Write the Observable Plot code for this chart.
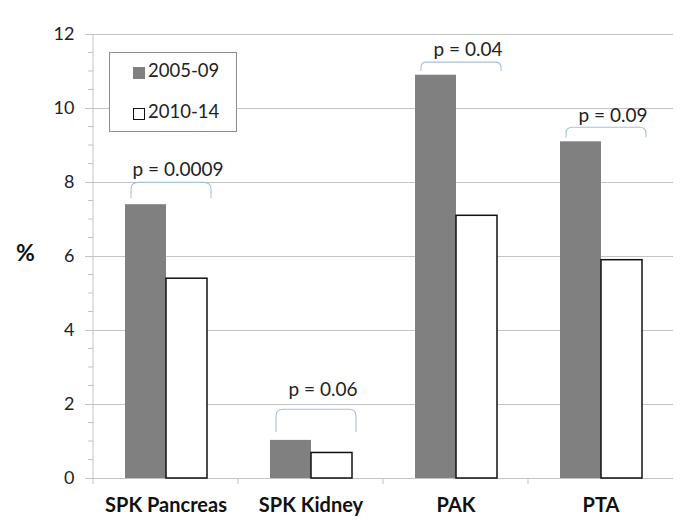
<!DOCTYPE html>
<html><head><meta charset="utf-8">
<script src="https://cdn.jsdelivr.net/npm/d3@7"></script>
<script src="https://cdn.jsdelivr.net/npm/@observablehq/plot@0.6"></script>
<style>
body{margin:0;background:#fff;font-family:Lato,"Open Sans",sans-serif;}
#wrap{position:relative;width:700px;height:521px;overflow:hidden;}
#legend{position:absolute;left:109px;top:52px;width:126px;height:78px;border:1px solid #8c8c8c;background:#fff;}
.sw{position:absolute;left:23px;width:12px;height:12px;box-sizing:border-box;}
.lt{position:absolute;left:38px;font-size:18.5px;line-height:18px;color:#222;white-space:nowrap;}
#pct{position:absolute;left:16px;top:241px;font-size:23px;font-weight:bold;color:#111;line-height:23px;}
</style></head><body>
<div id="wrap"><div id="chart"></div><div id="legend"></div><div id="pct">%</div></div>
<script>
const categories = ["SPK Pancreas", "SPK Kidney", "PAK", "PTA"];
const periods = ["2005-09", "2010-14"];
const values0509 = [7.4, 1.03, 10.9, 9.1];
const values1014 = [5.4, 0.69, 7.1, 5.9];
const pLabels = ["p = 0.0009", "p = 0.06", "p = 0.04", "p = 0.09"];
const pLabelY = [8.18, 2.24, 11.43, 9.64];
const bracketTop = [7.99, 1.86, 11.24, 9.48];
const bracketLegEnd = [7.56, 1.24, 11.0, 9.2];
const yTicks = [0, 2, 4, 6, 8, 10, 12];
const yMinorTicks = [0.5, 1, 1.5, 2.5, 3, 3.5, 4.5, 5, 5.5, 6.5, 7, 7.5, 8.5, 9, 9.5, 10.5, 11, 11.5];

const GRID = "#c3c3c3";
const bars = categories.flatMap((c, i) => [
  {category: c, period: periods[0], value: values0509[i]},
  {category: c, period: periods[1], value: values1014[i]}
]);
const annot = categories.map((c, i) => ({category: c, label: pLabels[i], labelY: pLabelY[i], top: bracketTop[i], legEnd: bracketLegEnd[i]}));

const chart = Plot.plot({
  width: 700, height: 521,
  marginLeft: 93, marginRight: 27, marginTop: 34, marginBottom: 43,
  fx: {domain: categories, padding: 0, axis: null},
  x: {domain: periods, paddingInner: 0, paddingOuter: 0.768, axis: null},
  y: {domain: [0, 12]},
  style: {fontFamily: "Lato, 'Open Sans', sans-serif", background: "white"},
  marks: [
    Plot.gridY(yTicks, {stroke: GRID, strokeOpacity: 1}),
    Plot.axisY(yTicks, {tickSize: 8, tickPadding: 11, fontSize: 18, stroke: GRID, fill: "#222", label: null}),
    Plot.dot(categories, {fx: d => d, y: () => 0, render: (index, scales, values, dimensions) => {
      const {y} = scales;
      const x0 = dimensions.marginLeft;
      const g = d3.create("svg:g").attr("stroke", GRID).attr("fill", "none");
      for (const i of index) {
        g.append("line").attr("x1", x0).attr("x2", x0).attr("y1", y(0)).attr("y2", y(0) + 6);
        if (categories[i] === categories[0]) {
          g.append("line").attr("x1", x0).attr("x2", x0).attr("y1", y(12)).attr("y2", y(0));
          for (const t of yMinorTicks) g.append("line").attr("x1", x0 - 5).attr("x2", x0).attr("y1", y(t)).attr("y2", y(t));
        }
      }
      return g.node();
    }}),
    Plot.barY(bars.filter(d => d.period === periods[0]), {fx: "category", x: "period", y: "value", fill: "#808080"}),
    Plot.barY(bars.filter(d => d.period === periods[1]), {fx: "category", x: "period", y: "value", fill: "white", stroke: "#111", strokeWidth: 1.5}),
    Plot.dot(annot, {fx: "category", y: "top", render: (index, scales) => {
      const {x, y} = scales;
      const g = d3.create("svg:g").attr("fill", "none").attr("stroke", "#a7c0dc").attr("stroke-width", 1.1);
      for (const i of index) {
        const d = annot[i];
        const L = x(periods[0]) + 6, R = x(periods[1]) + x.bandwidth() + 4;
        const T = y(d.top), B = y(d.legEnd);
        const r = Math.min(7, (B - T) * 0.6);
        g.append("path").attr("d", `M${L},${B}L${L},${T + r}Q${L},${T} ${L + r},${T}L${R - r},${T}Q${R},${T} ${R},${T + r}L${R},${B}`);
      }
      return g.node();
    }}),
    Plot.text(annot, {fx: "category", y: "labelY", text: "label", lineAnchor: "bottom", dx: 12, fontSize: 19, fill: "#222"}),
    Plot.text(categories, {fx: d => d, text: d => d, frameAnchor: "bottom", lineAnchor: "bottom", dy: 33, fontSize: 20, fontWeight: "bold", fill: "#111"})
  ]
});
document.getElementById("chart").appendChild(chart);

const legend = d3.select("#legend");
const swatchFill = ["#808080", "#ffffff"];
const swatchStroke = ["none", "#111"];
const swTop = [14, 55], txtTop = [8, 49];
periods.forEach((p, i) => {
  legend.append("div").attr("class", "sw").style("top", swTop[i] + "px").style("background", swatchFill[i])
    .style("border", swatchStroke[i] === "none" ? "none" : "1.5px solid " + swatchStroke[i]);
  legend.append("div").attr("class", "lt").style("top", txtTop[i] + "px").text(p);
});
</script>
</body></html>
